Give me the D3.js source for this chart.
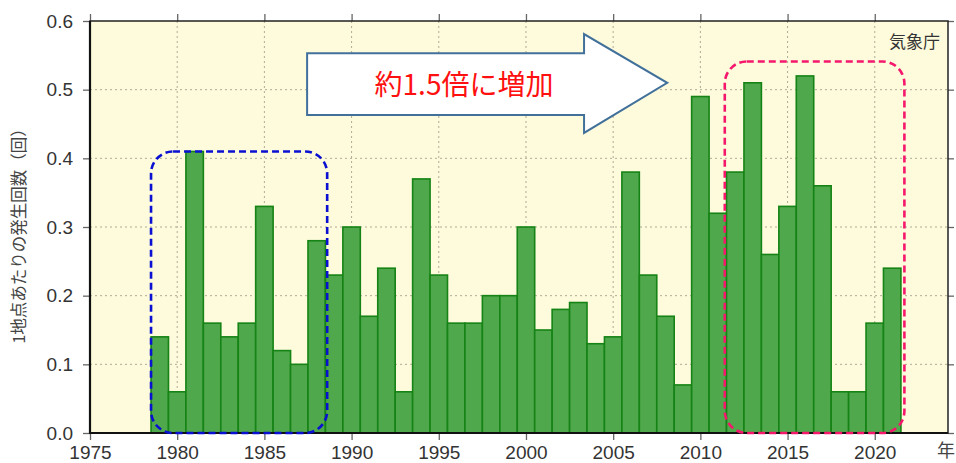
<!DOCTYPE html>
<html>
<head>
<meta charset="utf-8">
<script src="https://cdn.jsdelivr.net/npm/d3@7"></script>
<style>
  body { margin: 0; background: #fff; }
  svg { display: block; }
  text { font-family: "Liberation Sans", Arial, sans-serif; }
  .jp { font-family: "Noto Sans CJK JP", sans-serif; }
</style>
</head>
<body>
<div id="chart"></div>
<script>
// Chart size
const width = 956;
const height = 463;

// Data: years and occurrence count per station
const years = d3.range(1979, 2022);
const counts = [
  0.14, 0.06, 0.41, 0.16, 0.14, 0.16, 0.33, 0.12, 0.10, 0.28,
  0.23, 0.30, 0.17, 0.24, 0.06, 0.37, 0.23, 0.16, 0.16, 0.20,
  0.20, 0.30, 0.15, 0.18, 0.19, 0.13, 0.14, 0.38, 0.23, 0.17,
  0.07, 0.49, 0.32, 0.38, 0.51, 0.26, 0.33, 0.52, 0.36, 0.06,
  0.06, 0.16, 0.24
];
const xTicks = [1975, 1980, 1985, 1990, 1995, 2000, 2005, 2010, 2015, 2020];
const yTicks = [0, 0.1, 0.2, 0.3, 0.4, 0.5, 0.6];

// Plot area
const pLeft = 90, pRight = 948, pTop = 21, pBottom = 433;

const x = d3.scaleLinear().domain([1975, 2024.2]).range([pLeft, pRight]);
const y = d3.scaleLinear().domain([0, 0.6]).range([pBottom, pTop]);
const bw = x(1976) - x(1975);

const svg = d3.select("#chart")
  .append("svg")
  .attr("width", width)
  .attr("height", height);

// Background
svg.append("rect")
  .attr("x", pLeft).attr("y", pTop)
  .attr("width", pRight - pLeft).attr("height", pBottom - pTop)
  .attr("fill", "#fdfbdb");

// Dotted grid
const grid = svg.append("g")
  .attr("stroke", "#b0ab98")
  .attr("stroke-width", 1)
  .attr("stroke-dasharray", "2,3");
grid.selectAll(".gy")
  .data(yTicks.slice(1, -1))
  .join("line")
  .attr("x1", pLeft).attr("x2", pRight)
  .attr("y1", d => y(d)).attr("y2", d => y(d));
grid.selectAll(".gx")
  .data(xTicks.slice(1))
  .join("line")
  .attr("x1", d => x(d)).attr("x2", d => x(d))
  .attr("y1", pTop).attr("y2", pBottom);

// Bars
svg.append("g")
  .selectAll("rect")
  .data(years)
  .join("rect")
  .attr("x", d => x(d) - bw / 2)
  .attr("y", (d, i) => y(counts[i]))
  .attr("width", bw)
  .attr("height", (d, i) => y(0) - y(counts[i]))
  .attr("fill", "#4fa84b")
  .attr("stroke", "#158315")
  .attr("stroke-width", 1.6);

// Axes
const yAxis = svg.append("g")
  .attr("transform", `translate(${pLeft},0)`)
  .call(d3.axisLeft(y).tickValues(yTicks).tickFormat(d3.format(".1f"))
    .tickSize(7).tickSizeOuter(0).tickPadding(10));
yAxis.selectAll("text").attr("font-size", 19).attr("fill", "#333").attr("font-family", "Liberation Sans, Arial, sans-serif");

const yAxisR = svg.append("g")
  .attr("transform", `translate(${pRight},0)`)
  .call(d3.axisRight(y).tickValues(yTicks).tickFormat("").tickSize(6).tickSizeOuter(0));

const xAxis = svg.append("g")
  .attr("transform", `translate(0,${pBottom})`)
  .call(d3.axisBottom(x).tickValues(xTicks).tickFormat(d3.format("d"))
    .tickSize(7).tickSizeOuter(0));
xAxis.selectAll("text")
  .attr("y", 26).attr("dy", 0)
  .attr("font-size", 19).attr("fill", "#333")
  .attr("font-family", "Liberation Sans, Arial, sans-serif");

const xAxisT = svg.append("g")
  .attr("transform", `translate(0,${pTop})`)
  .call(d3.axisTop(x).tickValues(xTicks).tickFormat("").tickSize(7).tickSizeOuter(0));

[yAxis, yAxisR, xAxis, xAxisT].forEach(a => {
  a.select(".domain").remove();
  a.selectAll(".tick line").attr("stroke", "#666").attr("stroke-width", 1.3);
});

// Frame
svg.append("rect")
  .attr("x", pLeft).attr("y", pTop)
  .attr("width", pRight - pLeft).attr("height", pBottom - pTop)
  .attr("fill", "none")
  .attr("stroke", "#222")
  .attr("stroke-width", 1.5);
svg.append("path")
  .attr("d", `M${pLeft},${pTop}V${pBottom}H${pRight}`)
  .attr("fill", "none")
  .attr("stroke", "#111")
  .attr("stroke-width", 2.2);

// Axis titles
svg.append("text")
  .attr("class", "jp")
  .attr("transform", `translate(25,232) rotate(-90)`)
  .attr("text-anchor", "middle")
  .attr("font-size", 16.5)
  .attr("fill", "#444")
  .text("1地点あたりの発生回数（回）");

svg.append("text")
  .attr("class", "jp")
  .attr("x", 937).attr("y", 457)
  .attr("font-size", 18)
  .attr("fill", "#444")
  .text("年");

svg.append("text")
  .attr("class", "jp")
  .attr("x", 940).attr("y", 48)
  .attr("text-anchor", "end")
  .attr("font-size", 17)
  .attr("fill", "#333")
  .text("気象庁");

// Highlight boxes (data units)
const boxes = [
  { x0: 1978.5, x1: 1988.6, y1: 0.41, color: "#0a10d2" },
  { x0: 2011.4, x1: 2021.7, y1: 0.541, color: "#f5176c" }
];
svg.append("g")
  .selectAll("rect")
  .data(boxes)
  .join("rect")
  .attr("x", d => x(d.x0))
  .attr("y", d => y(d.y1))
  .attr("width", d => x(d.x1) - x(d.x0))
  .attr("height", d => y(0) - y(d.y1))
  .attr("rx", 22).attr("ry", 22)
  .attr("fill", "none")
  .attr("stroke", d => d.color)
  .attr("stroke-width", 2.6)
  .attr("stroke-dasharray", "7,4");

// Arrow
const arrow = [
  [1987.45, 0.553], [2003.33, 0.553], [2003.33, 0.581], [2008.1, 0.51],
  [2003.33, 0.437], [2003.33, 0.463], [1987.45, 0.463]
];
svg.append("path")
  .attr("d", d3.line().x(d => x(d[0])).y(d => y(d[1])).curve(d3.curveLinearClosed)(arrow))
  .attr("fill", "#fff")
  .attr("stroke", "#41709b")
  .attr("stroke-width", 2);

svg.append("text")
  .attr("class", "jp")
  .attr("x", 464).attr("y", 95)
  .attr("text-anchor", "middle")
  .attr("font-size", 28)
  .attr("fill", "#ff1010")
  .text("約1.5倍に増加");
</script>
</body>
</html>
